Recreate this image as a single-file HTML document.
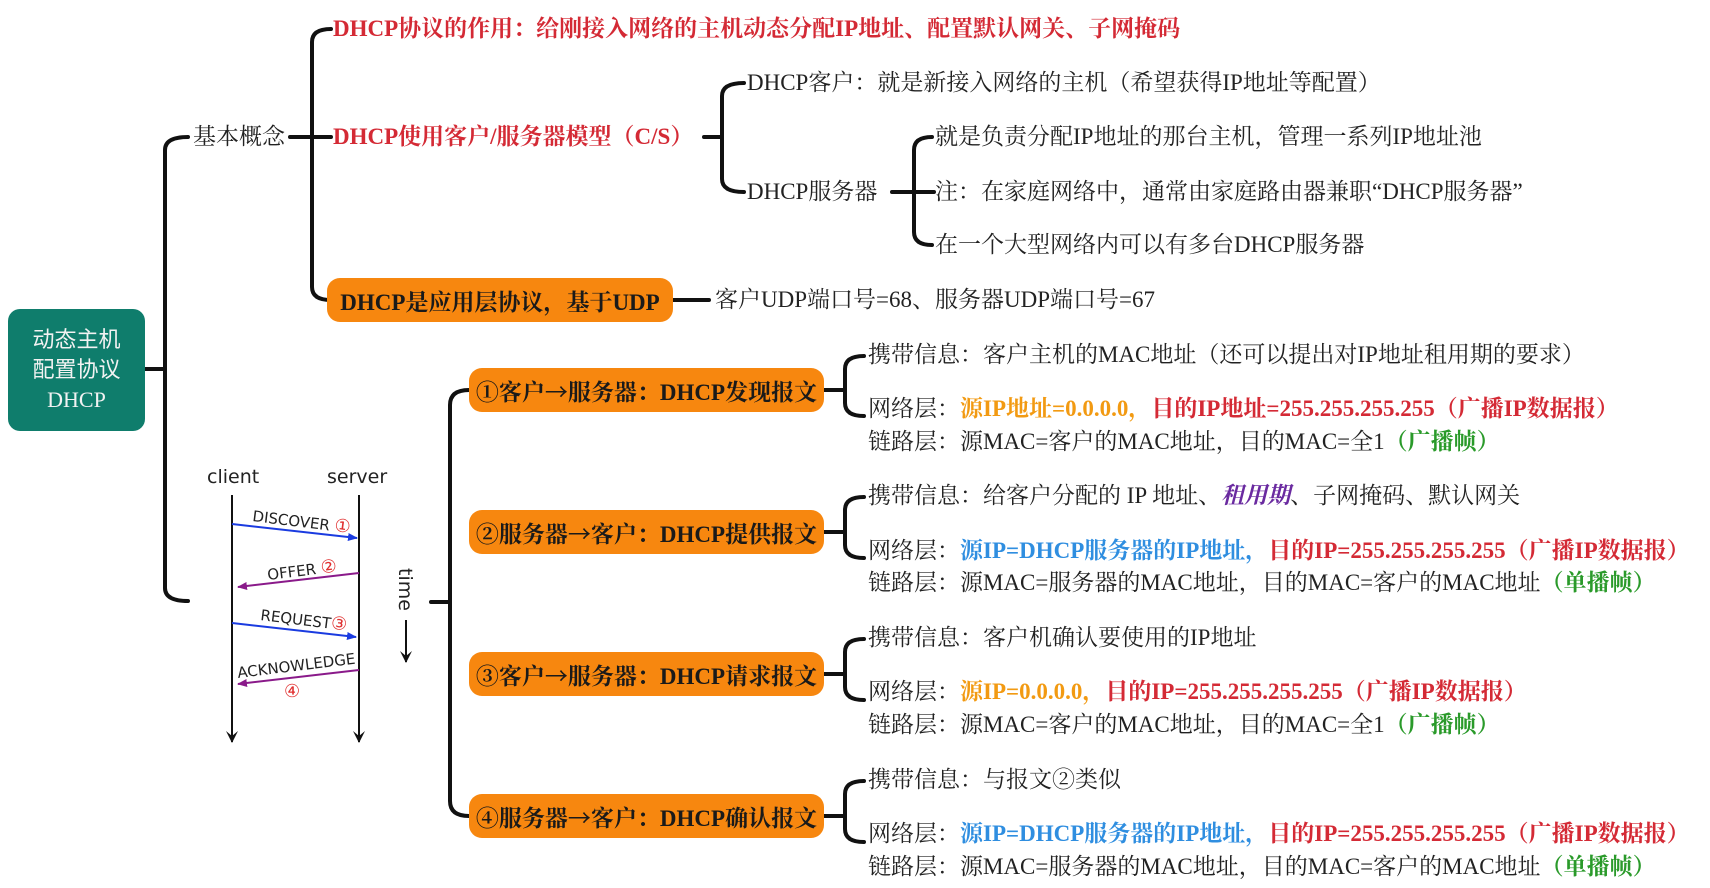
<!DOCTYPE html>
<html><head><meta charset="utf-8">
<style>
html,body{margin:0;padding:0;background:#fff;}
body{width:1710px;height:888px;position:relative;overflow:hidden;font-family:"Liberation Serif","Noto Serif CJK SC",serif;font-size:23px;color:#222;}
.t{position:absolute;white-space:nowrap;line-height:30px;height:30px;transform:translateY(-15px);}
.b{font-weight:bold;}
.red{color:#d42a35;}
.org{color:#f29a12;}
.blu{color:#2f8ee0;}
.grn{color:#2a9a2a;}
.pur{color:#6a2aa0;font-style:italic;font-weight:bold;}
.ar{font-family:"Noto Sans CJK SC",sans-serif;font-weight:normal;}
.box{position:absolute;background:#f7870f;border-radius:13px;font-weight:bold;color:#1a1a1a;display:flex;align-items:center;justify-content:center;white-space:nowrap;font-size:23px;}
.root{position:absolute;left:8px;top:309px;width:137px;height:122px;background:#0f7d6c;border-radius:12px;color:#f2f2f2;font-size:22px;line-height:30px;text-align:center;display:flex;align-items:center;justify-content:center;font-family:"Liberation Serif","Noto Sans CJK SC",serif;}
svg{position:absolute;left:0;top:0;}
</style></head><body>
<svg width="1710" height="888" viewBox="0 0 1710 888">
<defs>
<marker id="ab" markerWidth="10" markerHeight="8" refX="9" refY="4" orient="auto" markerUnits="userSpaceOnUse"><path d="M0,0 L10,4 L0,8 Z" fill="#1a3be0"/></marker>
<marker id="ap" markerWidth="10" markerHeight="8" refX="9" refY="4" orient="auto" markerUnits="userSpaceOnUse"><path d="M0,0 L10,4 L0,8 Z" fill="#8a1a8a"/></marker>
<marker id="ak" markerWidth="12" markerHeight="12" refX="6" refY="11" orient="0" markerUnits="userSpaceOnUse"><path d="M0,0 L6,12 L12,0 L6,5 Z" fill="#111"/></marker>
</defs>
<g fill="none" stroke="#111" stroke-width="4" stroke-linecap="round">
<path d="M145,369 H165"/>
<path d="M188,137 Q165,137 165,150 V588 Q165,601 188,601"/>
<path d="M290,137 H331"/>
<path d="M331,29 Q312,29 312,42 V287 Q312,300 331,300"/>
<path d="M704,137 H722"/>
<path d="M744,83 Q722,83 722,96 V179 Q722,192 744,192"/>
<path d="M892,192 H934"/>
<path d="M932,137 Q914,137 914,150 V232 Q914,245 932,245"/>
<path d="M673,300 H709"/>
<path d="M431,602 H450"/>
<path d="M469,390 Q450,390 450,405 V801 Q450,816 469,816"/>
<path d="M824,390 H845"/><path d="M864,356 Q845,356 845,369 V403 Q845,416 864,416"/>
<path d="M824,532 H845"/><path d="M864,497 Q845,497 845,510 V545 Q845,558 864,558"/>
<path d="M824,674 H845"/><path d="M864,639 Q845,639 845,652 V687 Q845,700 864,700"/>
<path d="M824,816 H845"/><path d="M864,781 Q845,781 845,794 V829 Q845,842 864,842"/>
</g>
<g stroke="#111" stroke-width="2" fill="none">
<line x1="232" y1="495" x2="232" y2="742" marker-end="url(#ak)"/>
<line x1="359" y1="495" x2="359" y2="742" marker-end="url(#ak)"/>
<line x1="406" y1="620" x2="406" y2="662" marker-end="url(#ak)"/>
</g>
<line x1="232" y1="524" x2="357" y2="538" stroke="#1a3be0" stroke-width="2" marker-end="url(#ab)"/>
<line x1="359" y1="573" x2="238" y2="587" stroke="#8a1a8a" stroke-width="2" marker-end="url(#ap)"/>
<line x1="232" y1="623" x2="356" y2="637" stroke="#1a3be0" stroke-width="2" marker-end="url(#ab)"/>
<line x1="359" y1="670" x2="238" y2="684" stroke="#8a1a8a" stroke-width="2" marker-end="url(#ap)"/>
<g font-family="'DejaVu Sans',sans-serif" font-size="15" fill="#222">
<text x="207" y="483" font-size="19">client</text>
<text x="327" y="483" font-size="19">server</text>
<text transform="translate(252,521) rotate(7)">DISCOVER <tspan fill="#e03030" font-size="18">①</tspan></text>
<text transform="translate(268,580) rotate(-7)">OFFER <tspan fill="#e03030" font-size="18">②</tspan></text>
<text transform="translate(260,620) rotate(7)">REQUEST<tspan fill="#e03030" font-size="18">③</tspan></text>
<text transform="translate(238,678) rotate(-7)">ACKNOWLEDGE</text>
<text x="284" y="697" fill="#e03030" font-size="18">④</text>
<text transform="translate(399,568) rotate(90)" font-size="19">time</text>
</g>
</svg>

<div class="root"><div>动态主机<br>配置协议<br>DHCP</div></div>

<div class="t" style="left:193px;top:137px;">基本概念</div>
<div class="t b red" style="left:333px;top:29px;">DHCP协议的作用：给刚接入网络的主机动态分配IP地址、配置默认网关、子网掩码</div>
<div class="t b red" style="left:333px;top:137px;">DHCP使用客户/服务器模型（C/S）</div>
<div class="t" style="left:747px;top:83px;">DHCP客户：就是新接入网络的主机（希望获得IP地址等配置）</div>
<div class="t" style="left:747px;top:192px;">DHCP服务器</div>
<div class="t" style="left:935px;top:137px;">就是负责分配IP地址的那台主机，管理一系列IP地址池</div>
<div class="t" style="left:935px;top:192px;">注：在家庭网络中，通常由家庭路由器兼职“DHCP服务器”</div>
<div class="t" style="left:935px;top:245px;">在一个大型网络内可以有多台DHCP服务器</div>
<div class="box" style="left:327px;top:278px;width:346px;height:44px;">DHCP是应用层协议，基于UDP</div>
<div class="t" style="left:715px;top:300px;">客户UDP端口号=68、服务器UDP端口号=67</div>

<div class="box" style="left:469px;top:368px;width:355px;height:44px;">①客户<span class="ar">→</span>服务器：DHCP发现报文</div>
<div class="box" style="left:469px;top:510px;width:355px;height:44px;">②服务器<span class="ar">→</span>客户：DHCP提供报文</div>
<div class="box" style="left:469px;top:652px;width:355px;height:44px;">③客户<span class="ar">→</span>服务器：DHCP请求报文</div>
<div class="box" style="left:469px;top:794px;width:355px;height:44px;">④服务器<span class="ar">→</span>客户：DHCP确认报文</div>

<div class="t" style="left:868px;top:355px;">携带信息：客户主机的MAC地址（还可以提出对IP地址租用期的要求）</div>
<div class="t" style="left:868px;top:409px;">网络层：<span class="b org">源IP地址=0.0.0.0，</span><span class="b red">目的IP地址=255.255.255.255（广播IP数据报）</span></div>
<div class="t" style="left:868px;top:442px;">链路层：源MAC=客户的MAC地址，目的MAC=全1<span class="b grn">（广播帧）</span></div>

<div class="t" style="left:868px;top:496px;">携带信息：给客户分配的 IP 地址、<span class="pur">租用期</span>、子网掩码、默认网关</div>
<div class="t" style="left:868px;top:551px;">网络层：<span class="b blu">源IP=DHCP服务器的IP地址，</span><span class="b red">目的IP=255.255.255.255（广播IP数据报）</span></div>
<div class="t" style="left:868px;top:583px;">链路层：源MAC=服务器的MAC地址，目的MAC=客户的MAC地址<span class="b grn">（单播帧）</span></div>

<div class="t" style="left:868px;top:638px;">携带信息：客户机确认要使用的IP地址</div>
<div class="t" style="left:868px;top:692px;">网络层：<span class="b org">源IP=0.0.0.0，</span><span class="b red">目的IP=255.255.255.255（广播IP数据报）</span></div>
<div class="t" style="left:868px;top:725px;">链路层：源MAC=客户的MAC地址，目的MAC=全1<span class="b grn">（广播帧）</span></div>

<div class="t" style="left:868px;top:780px;">携带信息：与报文②类似</div>
<div class="t" style="left:868px;top:834px;">网络层：<span class="b blu">源IP=DHCP服务器的IP地址，</span><span class="b red">目的IP=255.255.255.255（广播IP数据报）</span></div>
<div class="t" style="left:868px;top:867px;">链路层：源MAC=服务器的MAC地址，目的MAC=客户的MAC地址<span class="b grn">（单播帧）</span></div>
</body></html>
